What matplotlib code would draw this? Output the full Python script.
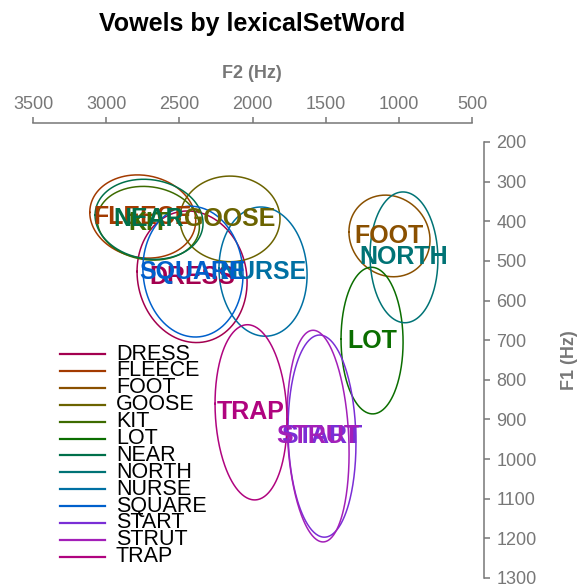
import numpy as np
import matplotlib
matplotlib.use("Agg")
import matplotlib.pyplot as plt
from matplotlib.lines import Line2D

plt.rcParams['font.family'] = ['Liberation Sans', 'DejaVu Sans']

# vowel data (means, spread and correlation, Hz)
vowels = ['DRESS', 'FLEECE', 'FOOT', 'GOOSE', 'KIT', 'LOT', 'NEAR',
          'NORTH', 'NURSE', 'SQUARE', 'START', 'STRUT', 'TRAP']
f2_mean = [2413, 2750, 1064, 2154, 2712, 1183, 2707, 965, 1928, 2407, 1525, 1552, 2010]
f1_mean = [540, 388, 437, 394, 405, 701, 395, 491, 527, 527, 942, 942, 882]
f2_sd = [376, 362, 277, 342, 349, 212, 369, 232, 301, 342, 232, 212, 246]
f1_sd = [166, 105, 103, 108, 93, 185, 101, 165, 163, 165, 255, 267, 221]
rho = [-0.08, -0.1, -0.1, 0.0, -0.1, -0.02, -0.1, -0.03, -0.05, -0.05, -0.07, -0.16, -0.1]
colors = ['#a3004f', '#a33a00', '#8a5000', '#6b6300', '#3d6b00', '#0b6e00', '#00704a',
          '#007375', '#0070a3', '#0060cc', '#7a2ed6', '#a31fb8', '#b0047f']

W, H = 579, 587
fig = plt.figure(figsize=(W / 100, H / 100), dpi=100)


def fx(px):
    return px / W


def fy(py):
    return 1 - py / H


ax = fig.add_axes([fx(33), fy(578), (472 - 33) / W, (578 - 142) / H])

t = np.linspace(0, 2 * np.pi, 300)
for i, v in enumerate(vowels):
    r = rho[i]
    xs = f2_mean[i] + f2_sd[i] * np.cos(t)
    ys = f1_mean[i] + f1_sd[i] * (r * np.cos(t) + np.sqrt(1 - r * r) * np.sin(t))
    ax.plot(xs, ys, color=colors[i], lw=1.1)

for i, v in enumerate(vowels):
    ax.text(f2_mean[i], f1_mean[i], v, color=colors[i], fontsize=18,
            fontweight='bold', ha='center', va='center')

ax.set_xlim(3500, 500)
ax.set_ylim(1300, 200)
ax.set_xticks(np.arange(3500, 499, -500))
ax.set_yticks(np.arange(200, 1301, 100))

axis_col = '#777777'
for s in ['left', 'bottom']:
    ax.spines[s].set_visible(False)
ax.spines['top'].set_position(('outward', 13.7))
ax.spines['right'].set_position(('outward', 8.6))
for s in ['top', 'right']:
    ax.spines[s].set_color(axis_col)
    ax.spines[s].set_linewidth(1.1)
ax.xaxis.set_ticks_position('top')
ax.yaxis.set_ticks_position('right')
ax.tick_params(axis='x', direction='out', length=4.3, width=1.1, color=axis_col,
               labelcolor=axis_col, labelsize=13, pad=3)
ax.tick_params(axis='y', direction='out', length=4.3, width=1.1, color=axis_col,
               labelcolor=axis_col, labelsize=13, pad=4.5)

fig.text(fx(252), fy(24), 'Vowels by lexicalSetWord', fontsize=18, fontweight='bold',
         ha='center', va='center', color='black')
fig.text(fx(252), fy(73), 'F2 (Hz)', fontsize=13, fontweight='bold',
         ha='center', va='center', color=axis_col)
fig.text(fx(569), fy(360), 'F1 (Hz)', fontsize=13, fontweight='bold',
         ha='center', va='center', color=axis_col, rotation=90)

# legend drawn by hand, rows overlap like the original
for i, v in enumerate(vowels):
    y = 354 + i * 16.9
    fig.add_artist(Line2D([fx(60), fx(105)], [fy(y), fy(y)], color=colors[i], lw=1.6))
    fig.text(fx(116), fy(y), v, fontsize=15.5, ha='left', va='center', color='black')

fig.savefig('out.png', dpi=100)
